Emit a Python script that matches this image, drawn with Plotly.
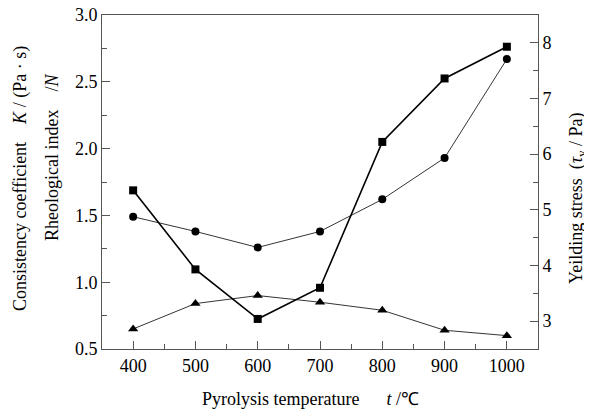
import plotly.graph_objects as go

temps = [400, 500, 600, 700, 800, 900, 1000]
yield_stress = [5.35, 3.93, 3.04, 3.60, 6.22, 7.36, 7.93]      # squares, right axis
consistency_k = [1.49, 1.38, 1.26, 1.38, 1.62, 1.93, 2.67]      # circles, left axis
rheo_index_n = [0.65, 0.84, 0.90, 0.85, 0.79, 0.64, 0.60]       # triangles, left axis

FONT = "Liberation Serif"
AX = "#555555"

# page offset of the plot div (default body margin)
OFF = 8
W, H = 592 - OFF, 412 - OFF
L, R, T, B = 102 - OFF, 54, 15 - OFF, 63

fig = go.Figure()
fig.add_trace(go.Scatter(x=temps, y=consistency_k, mode="lines+markers",
                         line=dict(color="black", width=0.8),
                         marker=dict(symbol="circle", size=8, color="black"),
                         showlegend=False))
fig.add_trace(go.Scatter(x=temps, y=rheo_index_n, mode="lines+markers",
                         line=dict(color="black", width=0.8),
                         marker=dict(symbol="triangle-up", size=9, color="black"),
                         showlegend=False))
fig.add_trace(go.Scatter(x=temps, y=yield_stress, mode="lines+markers", yaxis="y2",
                         line=dict(color="black", width=1.6),
                         marker=dict(symbol="square", size=8, color="black"),
                         showlegend=False))

tickfont = dict(family=FONT, size=18, color="black")
common = dict(showgrid=False, zeroline=False, showline=True, linecolor=AX, linewidth=1,
              ticks="inside", ticklen=8, tickcolor=AX, tickfont=tickfont,
              ticklabeloverflow="allow")
fig.update_layout(
    width=W, height=H,
    margin=dict(l=L, r=R, t=T, b=B, autoexpand=False),
    paper_bgcolor="white", plot_bgcolor="white",
    font=dict(family=FONT, size=18, color="black"),
    xaxis=dict(range=[350, 1050], dtick=100, tick0=0, mirror=True,
               minor=dict(dtick=50, ticks="inside", ticklen=5, tickcolor=AX), **common),
    yaxis=dict(range=[0.4999, 3.0001], dtick=0.5, tick0=0, tickformat=".1f",
               minor=dict(dtick=0.25, ticks="inside", ticklen=5, tickcolor=AX), **common),
    yaxis2=dict(range=[2.5, 8.5], dtick=1, tick0=0, overlaying="y", side="right",
                minor=dict(dtick=0.5, ticks="inside", ticklen=5, tickcolor=AX), **common),
)

# label centres in reference page pixels
annots = [
    ("Pyrolysis temperature&nbsp;&nbsp;&nbsp;&nbsp;&nbsp;&nbsp;<i>t</i> /℃", 310, 399, 0),
    ("Consistency coefficient&nbsp;&nbsp;&nbsp;&nbsp;<i>K</i> / (Pa · s)", 20, 179, -90),
    ("Rheological index&nbsp;&nbsp;&nbsp;&nbsp;/<i>N</i>", 52, 158, -90),
    ("Yeilding stress&nbsp;&nbsp;(<i>τ</i><sub>v</sub> / Pa)", 577, 199, -90),
]
pw, ph = W - L - R, H - T - B
for text, px, py, ang in annots:
    fx, fy = px - OFF, py - OFF
    fig.add_annotation(text=text, x=(fx - L) / pw, y=(H - B - fy) / ph,
                       xref="paper", yref="paper", xanchor="center", yanchor="middle",
                       textangle=ang, showarrow=False,
                       font=dict(family=FONT, size=18, color="black"))

fig.write_html("out.html")
